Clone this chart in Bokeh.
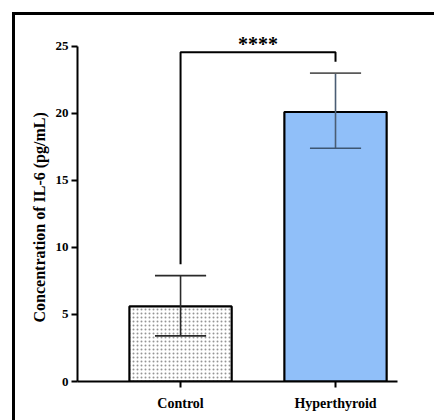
from bokeh.plotting import figure
from bokeh.models import Range1d, FixedTicker, ColumnDataSource, Title
from bokeh.core.properties import value
from bokeh.embed import file_html
from bokeh.resources import INLINE

categories = ["Control", "Hyperthyroid"]
means = [5.6, 20.1]
upper = [7.9, 23.0]
lower = [3.4, 17.4]
sig_level = 24.55
sig_text = "****"
y_ticks = [0, 5, 10, 15, 20, 25]
y_label = "Concentration of IL-6 (pg/mL)"

xs = list(range(1, len(categories) + 1))
FONT = "Liberation Serif"

p = figure(width=419, height=405, output_backend="svg", toolbar_location=None,
           x_range=Range1d(0.335, 2.4), y_range=Range1d(0, 27),
           frame_width=320, frame_height=362,
           min_border_left=62, min_border_top=4, min_border_right=37, min_border_bottom=39)
p.styles = {"margin-left": "12px", "margin-top": "12px",
            "border-left": "3px solid black", "border-top": "3px solid black"}
p.outline_line_color = None
p.xgrid.visible = False
p.ygrid.visible = False
p.background_fill_color = "white"

src = ColumnDataSource(dict(x=xs, top=means, up=upper, lo=lower,
                            fill=["white", "#90bff9"],
                            hatch=["dot", " "],
                            ecol=["#2a2a2a", "#4a5d74"]))

p.vbar(x="x", top="top", width=0.66, bottom=0, source=src,
       fill_color="fill", line_color="black", line_width=2.2,
       hatch_pattern="hatch", hatch_color="#959595", hatch_scale=4, hatch_weight=0.8)

cap = 0.165
p.segment(x0="x", y0="lo", x1="x", y1="up", source=src, line_color="ecol", line_width=1.6)
p.segment(x0=[x - cap for x in xs], y0=upper, x1=[x + cap for x in xs], y1=upper,
          line_color=["#2a2a2a", "#5a5a5a"], line_width=1.6)
p.segment(x0=[x - cap for x in xs], y0=lower, x1=[x + cap for x in xs], y1=lower,
          line_color=["#2a2a2a", "#3d5673"], line_width=1.6)

# significance bracket
legs = [u + 0.85 for u in upper]
p.line(x=[xs[0], xs[0], xs[1], xs[1]], y=[legs[0], sig_level, sig_level, legs[1]],
       line_color="black", line_width=2)
p.text(x=[(xs[0] + xs[1]) / 2], y=[sig_level + 0.6], text=[sig_text],
       text_align="center", text_baseline="alphabetic",
       text_font=value(FONT), text_font_style="bold", text_font_size="20px",
       text_color="black")

for ax in (p.xaxis[0], p.yaxis[0]):
    ax.axis_line_width = 2
    ax.axis_line_color = "black"
    ax.major_tick_line_width = 2
    ax.major_tick_line_color = "black"
    ax.major_tick_out = 6
    ax.major_tick_in = 0
    ax.minor_tick_line_color = None
    ax.major_label_text_font = FONT
    ax.major_label_text_font_style = "bold"
    ax.major_label_text_color = "black"

p.xaxis.ticker = FixedTicker(ticks=xs)
p.xaxis.major_label_overrides = {x: c for x, c in zip(xs, categories)}
p.xaxis.major_label_standoff = 8
p.xaxis.major_label_text_font_size = "14px"
p.xaxis.bounds = (0.335, 2.4)

p.yaxis.ticker = FixedTicker(ticks=y_ticks)
p.yaxis.bounds = (0, 25)
p.yaxis.major_label_standoff = 3
p.yaxis.major_label_text_font_size = "13px"

# y-axis title, aligned along the 0..25 span of the axis
p.add_layout(Title(text=y_label, align="left", offset=59, standoff=10,
                   text_font=FONT, text_font_style="bold", text_font_size="16px",
                   text_color="black"), "left")

open("out.html", "w").write(file_html(p, INLINE))
